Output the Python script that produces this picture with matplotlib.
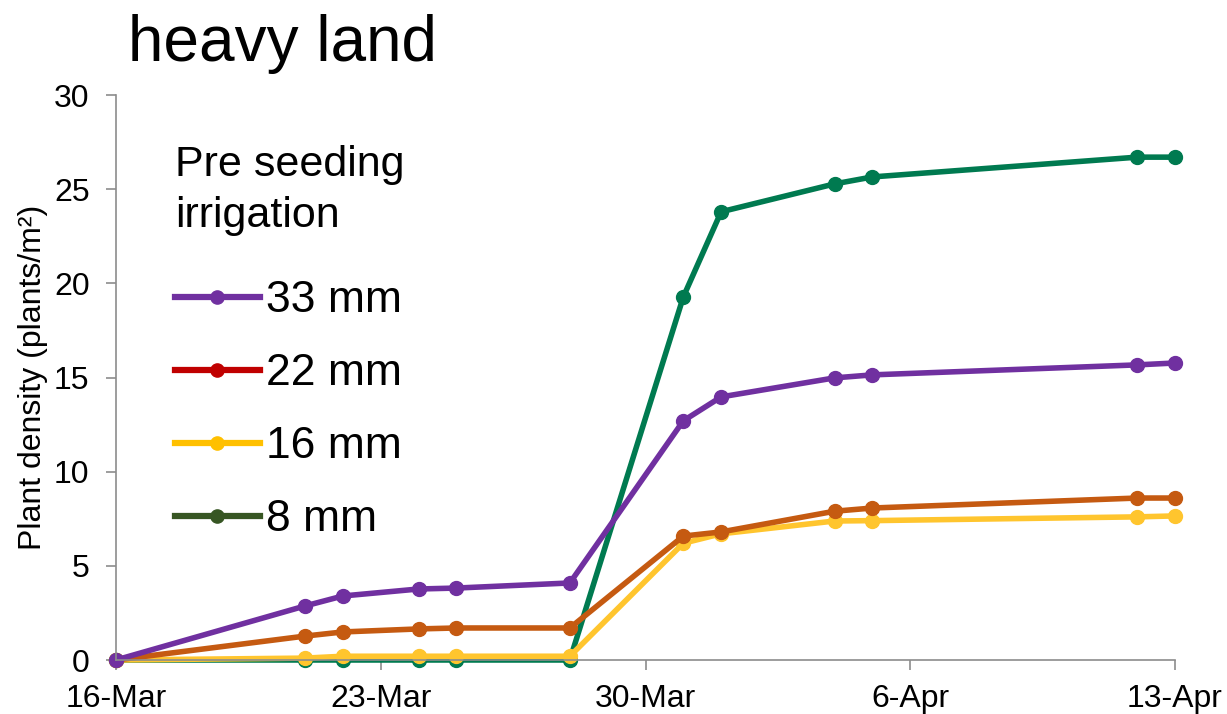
#!/usr/bin/env python3
"""Plant density after pre seeding irrigation on heavy land."""

from datetime import date

import matplotlib

matplotlib.use("Agg")
import matplotlib.dates as mdates
import matplotlib.pyplot as plt
from matplotlib.lines import Line2D

plt.rcParams["font.family"] = ["Liberation Sans", "DejaVu Sans"]

# sampling dates (year is arbitrary)
dates = [
    date(2021, 3, 16), date(2021, 3, 21), date(2021, 3, 22), date(2021, 3, 24),
    date(2021, 3, 25), date(2021, 3, 28), date(2021, 3, 31), date(2021, 4, 1),
    date(2021, 4, 4), date(2021, 4, 5), date(2021, 4, 12), date(2021, 4, 13),
]

mm33 = [0, 2.87, 3.4, 3.77, 3.82, 4.09, 12.7, 13.97, 14.98, 15.14, 15.67, 15.77]
mm22 = [0, 1.27, 1.49, 1.65, 1.7, 1.7, 6.58, 6.8, 7.9, 8.07, 8.6, 8.6]
mm16 = [0, 0.1, 0.2, 0.2, 0.2, 0.2, 6.2, 6.7, 7.38, 7.4, 7.6, 7.65]
mm8 = [0, 0, 0, 0, 0, 0, 19.28, 23.8, 25.28, 25.65, 26.7, 26.7]

# drawn bottom to top
series = [
    (mm8, "#007A50"),
    (mm16, "#FFC52E"),
    (mm22, "#C55A11"),
    (mm33, "#7030A0"),
]

# legend uses its own colours in the original
legend_labels = ["33 mm", "22 mm", "16 mm", "8 mm"]
legend_colors = ["#7030A0", "#C00000", "#FFC000", "#375623"]

xticks = [date(2021, 3, 16), date(2021, 3, 23), date(2021, 3, 30),
          date(2021, 4, 6), date(2021, 4, 13)]

fig = plt.figure(figsize=(12.27, 7.14), dpi=100)
ax = fig.add_axes([116 / 1227, 1 - 660 / 714, (1175 - 116) / 1227, (660 - 95) / 714])

for values, color in series:
    ax.plot(dates, values, color=color, lw=4, marker="o", markersize=10,
            solid_capstyle="round", clip_on=False)

ax.set_xlim(xticks[0], xticks[-1])
ax.set_ylim(0, 30)
ax.set_xticks(xticks)
ax.xaxis.set_major_formatter(mdates.DateFormatter("%-d-%b"))
ax.set_yticks(range(0, 31, 5))

for side in ["top", "right"]:
    ax.spines[side].set_visible(False)
for side in ["left", "bottom"]:
    ax.spines[side].set_color("#8C8C8C")
    ax.spines[side].set_linewidth(1.2)
ax.tick_params(axis="both", colors="#8C8C8C", labelcolor="black",
               labelsize=23, length=7, width=1.2, direction="out")
ax.tick_params(axis="y", pad=12)
ax.tick_params(axis="x", pad=10)

ax.set_ylabel("Plant density (plants/m²)", fontsize=23, labelpad=4)

fig.text(128 / 1227, 1 - 44 / 714, "heavy land", fontsize=46, va="center", ha="left")

handles = [
    Line2D([], [], color=c, lw=4.5, marker="o", markersize=9.5) for c in legend_colors
]
leg = ax.legend(handles, legend_labels, title="Pre seeding\nirrigation",
                loc="upper left", bbox_to_anchor=(0.018, 0.982), frameon=False,
                fontsize=32, title_fontsize=31, handlelength=1.9,
                handletextpad=0.15, labelspacing=0.72, alignment="left")
leg.get_title().set_linespacing(1.35)
leg._legend_box.sep = 32

fig.savefig("out.png", dpi=100)
